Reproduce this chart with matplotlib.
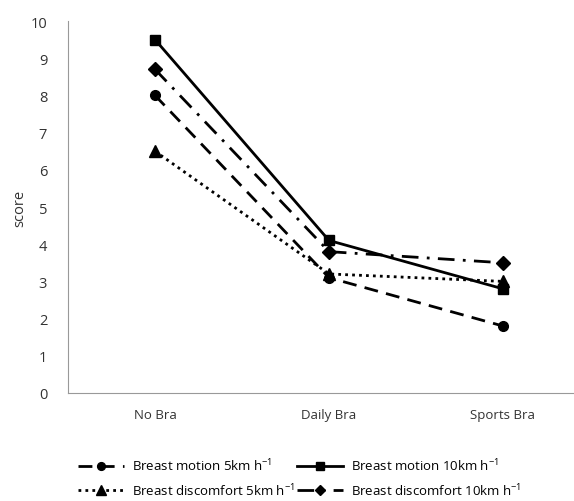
import matplotlib.pyplot as plt
import numpy as np

plt.rcParams['font.family'] = ['Open Sans', 'DejaVu Sans']
plt.rcParams['mathtext.fontset'] = 'custom'
plt.rcParams['mathtext.rm'] = 'Open Sans'

categories = ['No Bra', 'Daily Bra', 'Sports Bra']
motion_5 = [8.0, 3.1, 1.8]
motion_10 = [9.5, 4.1, 2.8]
discomfort_5 = [6.5, 3.2, 3.0]
discomfort_10 = [8.7, 3.8, 3.5]

fig = plt.figure(figsize=(5.74, 5.02), dpi=100, facecolor='white')
ax = fig.add_axes([68/574, 108/502, 522/574, 372/502])

x = np.arange(len(categories))
h_m5, = ax.plot(x, motion_5, color='black', linestyle=(0, (5, 3)), marker='o',
                markersize=7, linewidth=2, label=r'Breast motion 5km h$^{\mathregular{-1}}$')
h_d5, = ax.plot(x, discomfort_5, color='black', linestyle=(0, (1, 1.5)), marker='^',
                markersize=9, linewidth=2, label=r'Breast discomfort 5km h$^{\mathregular{-1}}$')
h_m10, = ax.plot(x, motion_10, color='black', linestyle='-', marker='s',
                 markersize=7, linewidth=2, label=r'Breast motion 10km h$^{\mathregular{-1}}$')
h_d10, = ax.plot(x, discomfort_10, color='black', linestyle=(0, (6, 3, 1, 3)), marker='D',
                 markersize=7, linewidth=2, label=r'Breast discomfort 10km h$^{\mathregular{-1}}$')

ax.set_xlim(-0.5, 2.5)
ax.set_ylim(0, 10)
ax.set_yticks(range(0, 11))
ax.set_xticks(x)
ax.set_xticklabels(categories)
ax.tick_params(length=0, labelsize=9.5, colors='#333333')
ax.tick_params(axis='x', pad=11)
ax.tick_params(axis='y', pad=15)
for lbl in ax.get_yticklabels():
    lbl.set_fontsize(10.5)
ax.spines['top'].set_visible(False)
ax.spines['right'].set_visible(False)
ax.spines['left'].set_color('#999999')
ax.spines['bottom'].set_color('#999999')
ax.set_ylabel('score', fontsize=10.5, color='#333333', labelpad=2)

fig.legend(handles=[h_m5, h_d5, h_m10, h_d10], ncol=2, loc='upper left',
           bbox_to_anchor=(66/574, 1 - 446/502), frameon=False, fontsize=9.5,
           handlelength=3.5, handletextpad=0.6, columnspacing=0.2, labelspacing=0.6,
           markerscale=0.8)

plt.savefig('out.png', dpi=100)
